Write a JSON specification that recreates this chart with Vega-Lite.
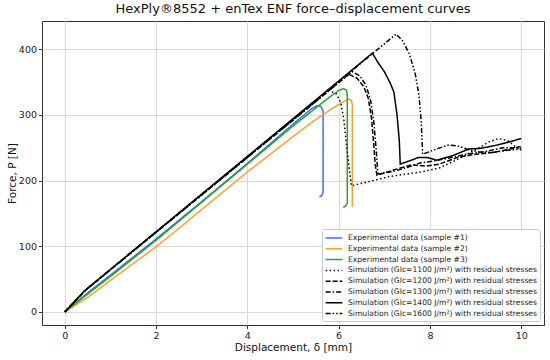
{
  "$schema": "https://vega.github.io/schema/vega-lite/v6.json",
  "width": 502,
  "height": 304,
  "autosize": {"type": "none"},
  "padding": {"left": 42, "top": 21, "right": 6, "bottom": 35},
  "config": {
    "font": "DejaVu Sans",
    "view": {"stroke": "#333", "strokeWidth": 1},
    "axis": {"domain": false, "gridColor": "#d9d9d9", "gridWidth": 1, "tickColor": "#333", "tickSize": 3.5, "labelFontSize": 9.5, "labelColor": "#222", "titleFontSize": 10.5, "titleFontWeight": "normal", "titleColor": "#111", "labelPadding": 2}
  },
  "title": {"text": "HexPly®8552 + enTex ENF force–displacement curves", "fontSize": 13, "fontWeight": "normal", "color": "#111", "offset": 5, "anchor": "middle"},
  "data": {"values": [
    {"s": "Experimental data (sample #1)", "i": 0, "x": 0, "y": 0},
    {"s": "Experimental data (sample #1)", "i": 1, "x": 0.5, "y": 29},
    {"s": "Experimental data (sample #1)", "i": 2, "x": 1, "y": 56},
    {"s": "Experimental data (sample #1)", "i": 3, "x": 2, "y": 111},
    {"s": "Experimental data (sample #1)", "i": 4, "x": 3, "y": 168},
    {"s": "Experimental data (sample #1)", "i": 5, "x": 4, "y": 226},
    {"s": "Experimental data (sample #1)", "i": 6, "x": 5, "y": 286},
    {"s": "Experimental data (sample #1)", "i": 7, "x": 5.4, "y": 309},
    {"s": "Experimental data (sample #1)", "i": 8, "x": 5.52, "y": 314},
    {"s": "Experimental data (sample #1)", "i": 9, "x": 5.61, "y": 313},
    {"s": "Experimental data (sample #1)", "i": 10, "x": 5.66, "y": 306},
    {"s": "Experimental data (sample #1)", "i": 11, "x": 5.66, "y": 182},
    {"s": "Experimental data (sample #1)", "i": 12, "x": 5.63, "y": 177},
    {"s": "Experimental data (sample #1)", "i": 13, "x": 5.58, "y": 175},
    {"s": "Experimental data (sample #2)", "i": 0, "x": 0, "y": 0},
    {"s": "Experimental data (sample #2)", "i": 1, "x": 0.5, "y": 22},
    {"s": "Experimental data (sample #2)", "i": 2, "x": 1, "y": 48},
    {"s": "Experimental data (sample #2)", "i": 3, "x": 2, "y": 99},
    {"s": "Experimental data (sample #2)", "i": 4, "x": 2.5, "y": 127},
    {"s": "Experimental data (sample #2)", "i": 5, "x": 3, "y": 156},
    {"s": "Experimental data (sample #2)", "i": 6, "x": 4, "y": 213},
    {"s": "Experimental data (sample #2)", "i": 7, "x": 5, "y": 267},
    {"s": "Experimental data (sample #2)", "i": 8, "x": 5.5, "y": 293},
    {"s": "Experimental data (sample #2)", "i": 9, "x": 5.8, "y": 307},
    {"s": "Experimental data (sample #2)", "i": 10, "x": 6.1, "y": 320},
    {"s": "Experimental data (sample #2)", "i": 11, "x": 6.22, "y": 324},
    {"s": "Experimental data (sample #2)", "i": 12, "x": 6.28, "y": 322},
    {"s": "Experimental data (sample #2)", "i": 13, "x": 6.3, "y": 315},
    {"s": "Experimental data (sample #2)", "i": 14, "x": 6.3, "y": 160},
    {"s": "Experimental data (sample #3)", "i": 0, "x": 0, "y": 0},
    {"s": "Experimental data (sample #3)", "i": 1, "x": 0.5, "y": 27},
    {"s": "Experimental data (sample #3)", "i": 2, "x": 1, "y": 54},
    {"s": "Experimental data (sample #3)", "i": 3, "x": 2, "y": 109},
    {"s": "Experimental data (sample #3)", "i": 4, "x": 3, "y": 167},
    {"s": "Experimental data (sample #3)", "i": 5, "x": 4, "y": 225},
    {"s": "Experimental data (sample #3)", "i": 6, "x": 5, "y": 283},
    {"s": "Experimental data (sample #3)", "i": 7, "x": 5.8, "y": 327},
    {"s": "Experimental data (sample #3)", "i": 8, "x": 6.0, "y": 337},
    {"s": "Experimental data (sample #3)", "i": 9, "x": 6.1, "y": 340},
    {"s": "Experimental data (sample #3)", "i": 10, "x": 6.17, "y": 338},
    {"s": "Experimental data (sample #3)", "i": 11, "x": 6.19, "y": 330},
    {"s": "Experimental data (sample #3)", "i": 12, "x": 6.19, "y": 166},
    {"s": "Experimental data (sample #3)", "i": 13, "x": 6.15, "y": 161},
    {"s": "Experimental data (sample #3)", "i": 14, "x": 6.1, "y": 159},
    {"s": "Simulation (GIc=1100 J/m²) with residual stresses", "i": 0, "x": 0, "y": 0},
    {"s": "Simulation (GIc=1100 J/m²) with residual stresses", "i": 1, "x": 0.45, "y": 33},
    {"s": "Simulation (GIc=1100 J/m²) with residual stresses", "i": 2, "x": 5.79, "y": 337},
    {"s": "Simulation (GIc=1100 J/m²) with residual stresses", "i": 3, "x": 5.95, "y": 332},
    {"s": "Simulation (GIc=1100 J/m²) with residual stresses", "i": 4, "x": 6.05, "y": 318},
    {"s": "Simulation (GIc=1100 J/m²) with residual stresses", "i": 5, "x": 6.12, "y": 290},
    {"s": "Simulation (GIc=1100 J/m²) with residual stresses", "i": 6, "x": 6.17, "y": 255},
    {"s": "Simulation (GIc=1100 J/m²) with residual stresses", "i": 7, "x": 6.22, "y": 225},
    {"s": "Simulation (GIc=1100 J/m²) with residual stresses", "i": 8, "x": 6.28, "y": 192},
    {"s": "Simulation (GIc=1100 J/m²) with residual stresses", "i": 9, "x": 6.7, "y": 199},
    {"s": "Simulation (GIc=1100 J/m²) with residual stresses", "i": 10, "x": 7.1, "y": 206},
    {"s": "Simulation (GIc=1100 J/m²) with residual stresses", "i": 11, "x": 7.5, "y": 210},
    {"s": "Simulation (GIc=1100 J/m²) with residual stresses", "i": 12, "x": 7.8, "y": 213},
    {"s": "Simulation (GIc=1100 J/m²) with residual stresses", "i": 13, "x": 8.2, "y": 219},
    {"s": "Simulation (GIc=1100 J/m²) with residual stresses", "i": 14, "x": 8.6, "y": 232},
    {"s": "Simulation (GIc=1100 J/m²) with residual stresses", "i": 15, "x": 9.0, "y": 247},
    {"s": "Simulation (GIc=1100 J/m²) with residual stresses", "i": 16, "x": 9.3, "y": 259},
    {"s": "Simulation (GIc=1100 J/m²) with residual stresses", "i": 17, "x": 9.5, "y": 264},
    {"s": "Simulation (GIc=1100 J/m²) with residual stresses", "i": 18, "x": 9.7, "y": 261},
    {"s": "Simulation (GIc=1100 J/m²) with residual stresses", "i": 19, "x": 9.85, "y": 253},
    {"s": "Simulation (GIc=1100 J/m²) with residual stresses", "i": 20, "x": 10, "y": 246},
    {"s": "Simulation (GIc=1200 J/m²) with residual stresses", "i": 0, "x": 0, "y": 0},
    {"s": "Simulation (GIc=1200 J/m²) with residual stresses", "i": 1, "x": 0.45, "y": 33},
    {"s": "Simulation (GIc=1200 J/m²) with residual stresses", "i": 2, "x": 6.22, "y": 362},
    {"s": "Simulation (GIc=1200 J/m²) with residual stresses", "i": 3, "x": 6.4, "y": 356},
    {"s": "Simulation (GIc=1200 J/m²) with residual stresses", "i": 4, "x": 6.55, "y": 343},
    {"s": "Simulation (GIc=1200 J/m²) with residual stresses", "i": 5, "x": 6.65, "y": 325},
    {"s": "Simulation (GIc=1200 J/m²) with residual stresses", "i": 6, "x": 6.72, "y": 295},
    {"s": "Simulation (GIc=1200 J/m²) with residual stresses", "i": 7, "x": 6.77, "y": 255},
    {"s": "Simulation (GIc=1200 J/m²) with residual stresses", "i": 8, "x": 6.8, "y": 225},
    {"s": "Simulation (GIc=1200 J/m²) with residual stresses", "i": 9, "x": 6.84, "y": 208},
    {"s": "Simulation (GIc=1200 J/m²) with residual stresses", "i": 10, "x": 7.2, "y": 216},
    {"s": "Simulation (GIc=1200 J/m²) with residual stresses", "i": 11, "x": 7.6, "y": 224},
    {"s": "Simulation (GIc=1200 J/m²) with residual stresses", "i": 12, "x": 7.9, "y": 222},
    {"s": "Simulation (GIc=1200 J/m²) with residual stresses", "i": 13, "x": 8.2, "y": 225},
    {"s": "Simulation (GIc=1200 J/m²) with residual stresses", "i": 14, "x": 8.6, "y": 235},
    {"s": "Simulation (GIc=1200 J/m²) with residual stresses", "i": 15, "x": 9.0, "y": 240},
    {"s": "Simulation (GIc=1200 J/m²) with residual stresses", "i": 16, "x": 9.4, "y": 243},
    {"s": "Simulation (GIc=1200 J/m²) with residual stresses", "i": 17, "x": 9.7, "y": 247},
    {"s": "Simulation (GIc=1200 J/m²) with residual stresses", "i": 18, "x": 10, "y": 252},
    {"s": "Simulation (GIc=1300 J/m²) with residual stresses", "i": 0, "x": 0, "y": 0},
    {"s": "Simulation (GIc=1300 J/m²) with residual stresses", "i": 1, "x": 0.45, "y": 33},
    {"s": "Simulation (GIc=1300 J/m²) with residual stresses", "i": 2, "x": 6.3, "y": 366},
    {"s": "Simulation (GIc=1300 J/m²) with residual stresses", "i": 3, "x": 6.47, "y": 359},
    {"s": "Simulation (GIc=1300 J/m²) with residual stresses", "i": 4, "x": 6.6, "y": 345},
    {"s": "Simulation (GIc=1300 J/m²) with residual stresses", "i": 5, "x": 6.7, "y": 322},
    {"s": "Simulation (GIc=1300 J/m²) with residual stresses", "i": 6, "x": 6.77, "y": 290},
    {"s": "Simulation (GIc=1300 J/m²) with residual stresses", "i": 7, "x": 6.82, "y": 250},
    {"s": "Simulation (GIc=1300 J/m²) with residual stresses", "i": 8, "x": 6.86, "y": 210},
    {"s": "Simulation (GIc=1300 J/m²) with residual stresses", "i": 9, "x": 7.2, "y": 214},
    {"s": "Simulation (GIc=1300 J/m²) with residual stresses", "i": 10, "x": 7.5, "y": 220},
    {"s": "Simulation (GIc=1300 J/m²) with residual stresses", "i": 11, "x": 7.8, "y": 227},
    {"s": "Simulation (GIc=1300 J/m²) with residual stresses", "i": 12, "x": 8.1, "y": 230},
    {"s": "Simulation (GIc=1300 J/m²) with residual stresses", "i": 13, "x": 8.4, "y": 234},
    {"s": "Simulation (GIc=1300 J/m²) with residual stresses", "i": 14, "x": 8.8, "y": 240},
    {"s": "Simulation (GIc=1300 J/m²) with residual stresses", "i": 15, "x": 9.2, "y": 244},
    {"s": "Simulation (GIc=1300 J/m²) with residual stresses", "i": 16, "x": 9.6, "y": 250},
    {"s": "Simulation (GIc=1300 J/m²) with residual stresses", "i": 17, "x": 10, "y": 250},
    {"s": "Simulation (GIc=1400 J/m²) with residual stresses", "i": 0, "x": 0, "y": 0},
    {"s": "Simulation (GIc=1400 J/m²) with residual stresses", "i": 1, "x": 0.45, "y": 33},
    {"s": "Simulation (GIc=1400 J/m²) with residual stresses", "i": 2, "x": 6.74, "y": 394},
    {"s": "Simulation (GIc=1400 J/m²) with residual stresses", "i": 3, "x": 6.85, "y": 381},
    {"s": "Simulation (GIc=1400 J/m²) with residual stresses", "i": 4, "x": 7.0, "y": 366},
    {"s": "Simulation (GIc=1400 J/m²) with residual stresses", "i": 5, "x": 7.12, "y": 350},
    {"s": "Simulation (GIc=1400 J/m²) with residual stresses", "i": 6, "x": 7.21, "y": 335},
    {"s": "Simulation (GIc=1400 J/m²) with residual stresses", "i": 7, "x": 7.28, "y": 300},
    {"s": "Simulation (GIc=1400 J/m²) with residual stresses", "i": 8, "x": 7.33, "y": 260},
    {"s": "Simulation (GIc=1400 J/m²) with residual stresses", "i": 9, "x": 7.35, "y": 225},
    {"s": "Simulation (GIc=1400 J/m²) with residual stresses", "i": 10, "x": 7.55, "y": 230},
    {"s": "Simulation (GIc=1400 J/m²) with residual stresses", "i": 11, "x": 7.75, "y": 235},
    {"s": "Simulation (GIc=1400 J/m²) with residual stresses", "i": 12, "x": 7.95, "y": 235},
    {"s": "Simulation (GIc=1400 J/m²) with residual stresses", "i": 13, "x": 8.15, "y": 231},
    {"s": "Simulation (GIc=1400 J/m²) with residual stresses", "i": 14, "x": 8.5, "y": 238},
    {"s": "Simulation (GIc=1400 J/m²) with residual stresses", "i": 15, "x": 8.85, "y": 248},
    {"s": "Simulation (GIc=1400 J/m²) with residual stresses", "i": 16, "x": 9.1, "y": 249},
    {"s": "Simulation (GIc=1400 J/m²) with residual stresses", "i": 17, "x": 9.4, "y": 253},
    {"s": "Simulation (GIc=1400 J/m²) with residual stresses", "i": 18, "x": 9.7, "y": 258},
    {"s": "Simulation (GIc=1400 J/m²) with residual stresses", "i": 19, "x": 10, "y": 264},
    {"s": "Simulation (GIc=1600 J/m²) with residual stresses", "i": 0, "x": 0, "y": 0},
    {"s": "Simulation (GIc=1600 J/m²) with residual stresses", "i": 1, "x": 0.45, "y": 33},
    {"s": "Simulation (GIc=1600 J/m²) with residual stresses", "i": 2, "x": 7.26, "y": 423},
    {"s": "Simulation (GIc=1600 J/m²) with residual stresses", "i": 3, "x": 7.4, "y": 413},
    {"s": "Simulation (GIc=1600 J/m²) with residual stresses", "i": 4, "x": 7.55, "y": 393},
    {"s": "Simulation (GIc=1600 J/m²) with residual stresses", "i": 5, "x": 7.68, "y": 362},
    {"s": "Simulation (GIc=1600 J/m²) with residual stresses", "i": 6, "x": 7.76, "y": 330},
    {"s": "Simulation (GIc=1600 J/m²) with residual stresses", "i": 7, "x": 7.81, "y": 290},
    {"s": "Simulation (GIc=1600 J/m²) with residual stresses", "i": 8, "x": 7.84, "y": 240},
    {"s": "Simulation (GIc=1600 J/m²) with residual stresses", "i": 9, "x": 8.1, "y": 247},
    {"s": "Simulation (GIc=1600 J/m²) with residual stresses", "i": 10, "x": 8.4, "y": 254},
    {"s": "Simulation (GIc=1600 J/m²) with residual stresses", "i": 11, "x": 8.6, "y": 253},
    {"s": "Simulation (GIc=1600 J/m²) with residual stresses", "i": 12, "x": 8.85, "y": 247},
    {"s": "Simulation (GIc=1600 J/m²) with residual stresses", "i": 13, "x": 9.1, "y": 243},
    {"s": "Simulation (GIc=1600 J/m²) with residual stresses", "i": 14, "x": 9.4, "y": 243},
    {"s": "Simulation (GIc=1600 J/m²) with residual stresses", "i": 15, "x": 9.7, "y": 246},
    {"s": "Simulation (GIc=1600 J/m²) with residual stresses", "i": 16, "x": 10, "y": 248}
  ]},
  "mark": {"type": "line", "strokeWidth": 1.5, "clip": true},
  "encoding": {
    "x": {"field": "x", "type": "quantitative", "title": "Displacement, δ [mm]", "scale": {"domain": [-0.5, 10.5], "nice": false, "zero": false}, "axis": {"values": [0, 2, 4, 6, 8, 10], "titlePadding": 2}},
    "y": {"field": "y", "type": "quantitative", "title": "Force, P [N]", "scale": {"domain": [-20, 443], "nice": false, "zero": false}, "axis": {"values": [0, 100, 200, 300, 400], "titlePadding": 1}},
    "order": {"field": "i", "type": "quantitative"},
    "color": {
      "field": "s", "type": "nominal", "title": null,
      "scale": {
        "domain": ["Experimental data (sample #1)", "Experimental data (sample #2)", "Experimental data (sample #3)", "Simulation (GIc=1100 J/m²) with residual stresses", "Simulation (GIc=1200 J/m²) with residual stresses", "Simulation (GIc=1300 J/m²) with residual stresses", "Simulation (GIc=1400 J/m²) with residual stresses", "Simulation (GIc=1600 J/m²) with residual stresses"],
        "range": ["#3b6cff", "#ff9f27", "#20aa20", "#000000", "#000000", "#000000", "#000000", "#000000"]
      },
      "legend": {"orient": "bottom-right", "offset": 4, "labelFontSize": 7.6, "labelColor": "#222", "symbolType": "M-1.6,0H1.6", "symbolSize": 110, "symbolStrokeWidth": 1.5, "symbolOffset": 3, "rowPadding": 0.8, "labelOffset": 8, "fillColor": "white", "strokeColor": "#ccc", "padding": 3, "cornerRadius": 2, "labelLimit": 300}
    },
    "strokeDash": {
      "field": "s", "type": "nominal", "title": null,
      "scale": {
        "domain": ["Experimental data (sample #1)", "Experimental data (sample #2)", "Experimental data (sample #3)", "Simulation (GIc=1100 J/m²) with residual stresses", "Simulation (GIc=1200 J/m²) with residual stresses", "Simulation (GIc=1300 J/m²) with residual stresses", "Simulation (GIc=1400 J/m²) with residual stresses", "Simulation (GIc=1600 J/m²) with residual stresses"],
        "range": [[1, 0], [1, 0], [1, 0], [1.5, 2.5], [5, 2], [5, 2, 1.5, 2], [1, 0], [5, 2, 1.5, 2, 1.5, 2]]
      }
    }
  }
}
